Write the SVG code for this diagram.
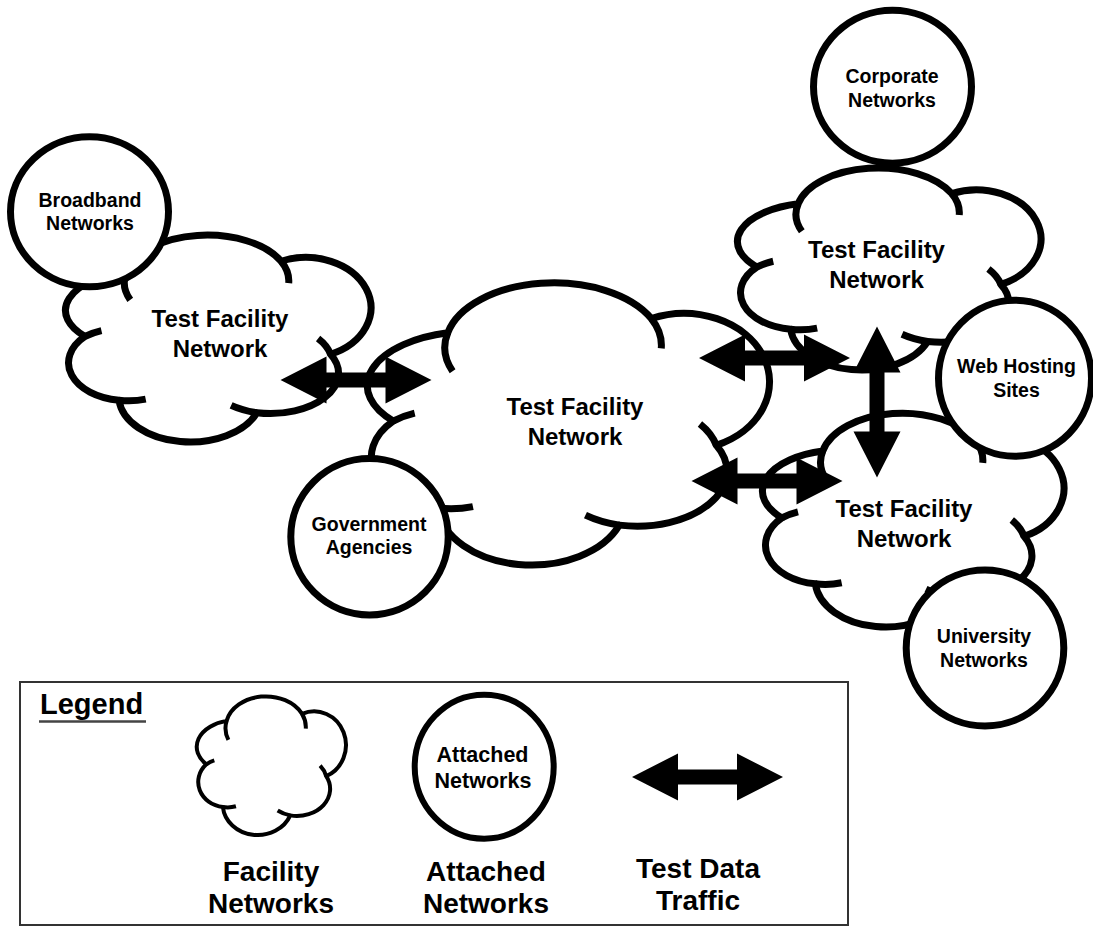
<svg xmlns="http://www.w3.org/2000/svg" xmlns:xlink="http://www.w3.org/1999/xlink" width="1093" height="928" viewBox="0 0 1093 928">
  <style>
    .bg { fill: #ffffff; }
    .cloud-body { fill: #ffffff; stroke: #000000; stroke-linejoin: round; vector-effect: non-scaling-stroke; }
    .cloud-tick { fill: none; stroke: #000000; stroke-linecap: butt; vector-effect: non-scaling-stroke; }
    .site { fill: #ffffff; stroke: #000000; stroke-width: 7; }
    .flow { fill: #000000; stroke: none; }
    .lbl { font-family: "Liberation Sans", Arial, Helvetica, sans-serif; font-weight: bold; fill: #000000; text-anchor: middle; }
    .lbl-site { font-size: 19.5px; }
    .lbl-cloud { font-size: 24px; }
    .lbl-key { font-size: 28px; }
    .lbl-keyin { font-size: 21.5px; }
    .frame { fill: #ffffff; stroke: #333333; stroke-width: 2; }
  </style>
  <defs>
    <!-- cloud outline and inner lobe strokes, drawn in a 100 x 100 box -->
    <g id="cloudShape">
      <path class="cloud-body" d="M6.3,49.5 A26.7,19.1 0 0 1 20,18.5 A27.2,22.3 0 0 1 71,13.5 A21,23.5 0 1 1 87.3,58 A22.5,19.3 0 0 1 63,86 A23.6,22 0 0 1 17.5,80 A19,18 0 0 1 6.3,49.5 Z"/>
      <path class="cloud-tick" d="M20,18.5 A27.2,22.3 0 0 0 21.2,32 M71,13.5 A27.2,22.3 0 0 1 73.5,24 M87.3,58 A22.5,19.3 0 0 0 83.2,50.5 M63,86 A22.5,19.3 0 0 1 54.5,82.5 M17.5,80 A19,18 0 0 0 26.3,79.5 M6.3,49.5 A19,18 0 0 1 11.7,46.7"/>
    </g>
    <!-- double-headed block arrow, 151 long, centred on the origin -->
    <path id="dualArrow" d="M-75.5,0 L-29.5,-23.5 L-29.5,-7.5 L29.5,-7.5 L29.5,-23.5 L75.5,0 L29.5,23.5 L29.5,7.5 L-29.5,7.5 L-29.5,23.5 Z"/>
  </defs>

  <rect class="bg" x="0" y="0" width="1093" height="928"/>

  <!-- facility networks -->
  <g id="facility-west">
    <use xlink:href="#cloudShape" href="#cloudShape" transform="translate(66,233) scale(3.03,2.09)" style="stroke-width:7"/>
    <text class="lbl lbl-cloud" x="220" y="327">Test Facility</text>
    <text class="lbl lbl-cloud" x="220" y="357">Network</text>
  </g>
  <g id="facility-core">
    <use xlink:href="#cloudShape" href="#cloudShape" transform="translate(368,280) scale(3.99,2.85)" style="stroke-width:7"/>
    <text class="lbl lbl-cloud" x="575" y="415">Test Facility</text>
    <text class="lbl lbl-cloud" x="575" y="445">Network</text>
  </g>
  <g id="facility-northeast">
    <use xlink:href="#cloudShape" href="#cloudShape" transform="translate(738,166) scale(3.01,2.04)" style="stroke-width:7"/>
    <text class="lbl lbl-cloud" x="876.5" y="258">Test Facility</text>
    <text class="lbl lbl-cloud" x="876.5" y="287.5">Network</text>
  </g>
  <g id="facility-southeast">
    <use xlink:href="#cloudShape" href="#cloudShape" transform="translate(763,411) scale(2.99,2.16)" style="stroke-width:7"/>
    <text class="lbl lbl-cloud" x="904" y="517">Test Facility</text>
    <text class="lbl lbl-cloud" x="904" y="547">Network</text>
  </g>

  <!-- attached networks -->
  <g id="attached-broadband">
    <ellipse class="site" cx="89.5" cy="211.7" rx="79" ry="75"/>
    <text class="lbl lbl-site" x="90" y="207">Broadband</text>
    <text class="lbl lbl-site" x="90" y="229.5">Networks</text>
  </g>
  <g id="attached-government">
    <ellipse class="site" cx="369.5" cy="536.7" rx="78.7" ry="78.2"/>
    <text class="lbl lbl-site" x="369" y="531">Government</text>
    <text class="lbl lbl-site" x="369" y="554">Agencies</text>
  </g>
  <g id="attached-corporate">
    <ellipse class="site" cx="892.5" cy="86.7" rx="79" ry="76.5"/>
    <text class="lbl lbl-site" x="892" y="83">Corporate</text>
    <text class="lbl lbl-site" x="892" y="107">Networks</text>
  </g>
  <g id="attached-webhosting">
    <ellipse class="site" cx="1015" cy="378.3" rx="76.5" ry="78"/>
    <text class="lbl lbl-site" x="1016.5" y="373">Web Hosting</text>
    <text class="lbl lbl-site" x="1016.5" y="397">Sites</text>
  </g>
  <g id="attached-university">
    <ellipse class="site" cx="985" cy="648" rx="78.8" ry="78"/>
    <text class="lbl lbl-site" x="984" y="643">University</text>
    <text class="lbl lbl-site" x="984" y="667">Networks</text>
  </g>

  <!-- test data traffic -->
  <g id="connectors">
    <use class="flow" xlink:href="#dualArrow" href="#dualArrow" transform="translate(356,380)"/>
    <use class="flow" xlink:href="#dualArrow" href="#dualArrow" transform="translate(774.5,358)"/>
    <use class="flow" xlink:href="#dualArrow" href="#dualArrow" transform="translate(877,402) rotate(90)"/>
    <use class="flow" xlink:href="#dualArrow" href="#dualArrow" transform="translate(767,481)"/>
  </g>

  <!-- key -->
  <g id="legend">
    <rect class="frame" x="20" y="682" width="828" height="243"/>
    <text x="40" y="714" style="font-family:'Liberation Sans',Arial,Helvetica,sans-serif;font-weight:bold;font-size:29px;fill:#000">Legend</text>
    <line x1="39" y1="721.5" x2="146" y2="721.5" stroke="#444444" stroke-width="2.5"/>
    <g id="legend-facility">
      <use xlink:href="#cloudShape" href="#cloudShape" transform="translate(197,695) scale(1.48,1.40)" style="stroke-width:4"/>
      <text class="lbl lbl-key" x="271" y="881">Facility</text>
      <text class="lbl lbl-key" x="271" y="913">Networks</text>
    </g>
    <g id="legend-attached">
      <ellipse cx="484.2" cy="766.7" rx="69.5" ry="72" fill="#ffffff" stroke="#000000" stroke-width="6"/>
      <text class="lbl lbl-keyin" x="482.5" y="762">Attached</text>
      <text class="lbl lbl-keyin" x="483" y="788">Networks</text>
      <text class="lbl lbl-key" x="486" y="881">Attached</text>
      <text class="lbl lbl-key" x="486" y="913">Networks</text>
    </g>
    <g id="legend-traffic">
      <use class="flow" xlink:href="#dualArrow" href="#dualArrow" transform="translate(707.5,777)"/>
      <text class="lbl lbl-key" x="698" y="878">Test Data</text>
      <text class="lbl lbl-key" x="698" y="910">Traffic</text>
    </g>
  </g>
</svg>
